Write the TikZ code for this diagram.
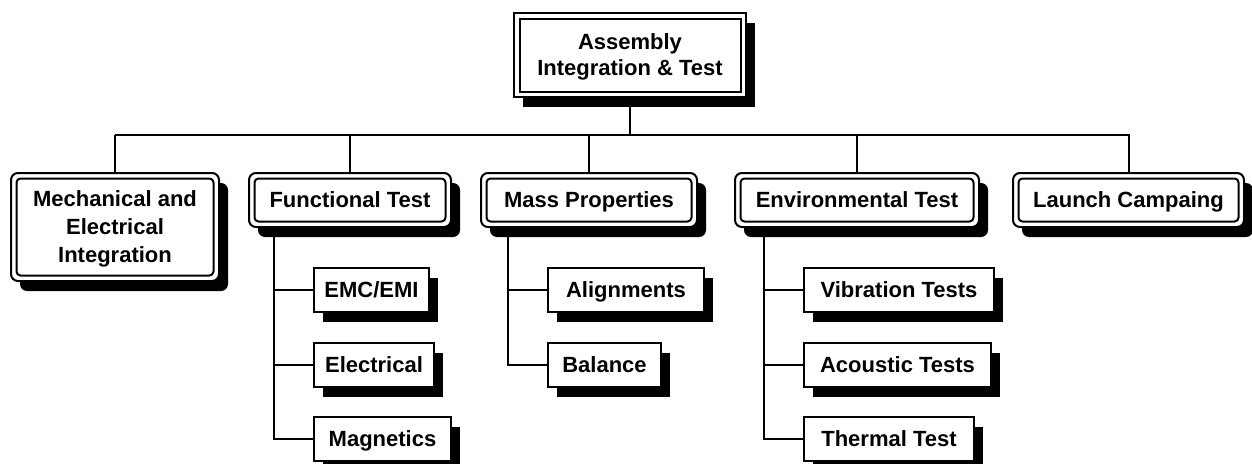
\documentclass[tikz,border=0pt]{standalone}
\usepackage{fontspec}
\setmainfont{Liberation Sans}
\usetikzlibrary{shadows,backgrounds}
\tikzset{
  base/.style={fill=white, draw=black, line width=2pt, inner sep=0pt, align=center,
    font=\bfseries\fontsize{22}{28}\selectfont, text depth=0pt,
    general shadow={fill=black, shadow xshift=9pt, shadow yshift=-10pt}},
  oneline/.style={text height=15.75pt, text depth=0pt},
  topbox/.style={base, font=\bfseries\fontsize{22}{26}\selectfont,
    path picture={\draw[line width=2pt]
      ([shift={(5.5pt,-5.5pt)}]path picture bounding box.north west) rectangle
      ([shift={(-5.5pt,5.5pt)}]path picture bounding box.south east);}},
  catbox/.style={base, rounded corners=7pt, minimum height=54pt,
    path picture={\draw[line width=2pt, rounded corners=4pt]
      ([shift={(5.5pt,-5.5pt)}]path picture bounding box.north west) rectangle
      ([shift={(-5.5pt,5.5pt)}]path picture bounding box.south east);}},
  leafbox/.style={base, oneline, minimum height=44pt},
  link/.style={line width=2pt}
}
\begin{document}
\begin{tikzpicture}[x=1pt, y=-1pt]
\useasboundingbox (0,0) rectangle (1252,463);

\node[topbox, minimum width=232pt, minimum height=84pt] (top) at (630,55) {Assembly\\Integration \& Test};

\node[catbox, minimum width=208pt, minimum height=108pt] (mech) at (115,227) {Mechanical and\\Electrical\\Integration};
\node[catbox, oneline, minimum width=202pt] (func) at (350,200) {Functional Test};
\node[catbox, oneline, minimum width=216pt] (mass) at (589,200) {Mass Properties};
\node[catbox, oneline, minimum width=244pt] (env) at (857,200) {Environmental Test};
\node[catbox, oneline, minimum width=231pt] (launch) at (1128.5,200) {Launch Campaing};

\node[leafbox, minimum width=115pt] (emc) at (371.5,290) {EMC/EMI};
\node[leafbox, minimum width=120pt] (elec) at (374,365) {Electrical};
\node[leafbox, minimum width=137pt] (mag) at (382.5,439) {Magnetics};

\node[leafbox, minimum width=156pt] (align) at (626,290) {Alignments};
\node[leafbox, minimum width=113pt] (bal) at (604.5,365) {Balance};

\node[leafbox, minimum width=190pt] (vib) at (899,290) {Vibration Tests};
\node[leafbox, minimum width=187pt] (acou) at (897.5,365) {Acoustic Tests};
\node[leafbox, minimum width=170pt] (therm) at (889,439) {Thermal Test};

\coordinate (busL) at (115,135);
\coordinate (busR) at (1130,135);
\coordinate (fspine) at (274,439);
\coordinate (mspine) at (508,365);
\coordinate (espine) at (764,439);

\begin{pgfonlayer}{background}
  \draw[link] (busL) -- (busR);
  \draw[link] (top) -- (top |- busL);
  \draw[link] (mech) -- (mech |- busL);
  \draw[link] (func) -- (func |- busL);
  \draw[link] (mass) -- (mass |- busL);
  \draw[link] (env) -- (env |- busL);
  \draw[link] (launch) -- (launch |- busL);

  \draw[link] (fspine |- func) -- (fspine) -- (mag.west);
  \draw[link] (fspine |- emc) -- (emc.west);
  \draw[link] (fspine |- elec) -- (elec.west);

  \draw[link] (mspine |- mass) -- (mspine) -- (bal.west);
  \draw[link] (mspine |- align) -- (align.west);

  \draw[link] (espine |- env) -- (espine) -- (therm.west);
  \draw[link] (espine |- vib) -- (vib.west);
  \draw[link] (espine |- acou) -- (acou.west);
\end{pgfonlayer}
\end{tikzpicture}
\end{document}
